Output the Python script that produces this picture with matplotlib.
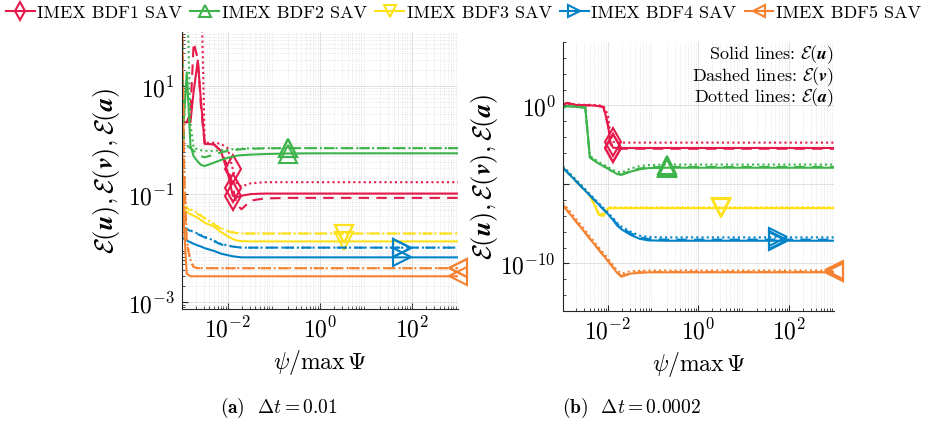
import numpy as np
import matplotlib
matplotlib.use('Agg')
import matplotlib.pyplot as plt
from matplotlib.lines import Line2D
from matplotlib.ticker import LogLocator, NullFormatter, FixedLocator, FixedFormatter

plt.rcParams['font.family'] = 'cmr10'
plt.rcParams['mathtext.fontset'] = 'cm'
plt.rcParams['axes.formatter.use_mathtext'] = True

# metodos, colores y marcadores
methods = ['IMEX BDF1 SAV', 'IMEX BDF2 SAV', 'IMEX BDF3 SAV', 'IMEX BDF4 SAV', 'IMEX BDF5 SAV']
colors = ['#e6194b', '#3cb44b', '#ffe119', '#0082c8', '#f58231']
markers = ['d', '^', 'v', '>', '<']
msizes = [14, 13, 13, 13, 13]

# (a) dt = 0.01 -- exponentes log10
xa = [-3.0, -2.95, -2.89, -2.81, -2.74, -2.65, -2.58, -2.5, -2.3, -2.15, -2.0,
      -1.89, -1.8, -1.7, -1.5, -1.2, -0.7, 0.0, 0.53, 1.78, 3.0]
u1a = [0.33, 0.33, 0.33, 0.33, 0.9, 1.47, 0.7, -0.07, -0.08, -0.2, -0.6,
       -1.03, -1.06, -1.03, -1.0, -0.99, -0.99, -0.99, -0.99, -0.99, -0.99]
v1a = [0.33, 0.33, 0.33, 0.5, 1.8, 1.5, 0.6, -0.07, -0.08, -0.2, -0.5,
       -0.88, -1.2, -1.28, -1.12, -1.08, -1.07, -1.07, -1.07, -1.07, -1.07]
a1a = [3.0, 3.0, 3.0, 3.0, 3.0, 3.0, 3.0, -0.05, -0.05, -0.07, -0.15,
       -0.54, -0.82, -0.86, -0.8, -0.78, -0.78, -0.78, -0.78, -0.78, -0.78]
u2a = [0.2, 0.4, 1.25, -0.1, -0.3, -0.4, -0.46, -0.48, -0.42, -0.37, -0.33,
       -0.31, -0.29, -0.28, -0.27, -0.26, -0.25, -0.246, -0.246, -0.246, -0.246]
v2a = [2.5, 0.0, -0.1, -0.15, -0.2, -0.25, -0.3, -0.32, -0.27, -0.23, -0.2,
       -0.19, -0.18, -0.17, -0.16, -0.155, -0.15, -0.15, -0.15, -0.15, -0.15]
a2a = [3.0, 3.0, 3.0, 0.3, -0.15, -0.17, -0.19, -0.2, -0.2, -0.19, -0.18,
       -0.17, -0.165, -0.16, -0.155, -0.15, -0.15, -0.15, -0.15, -0.15, -0.15]
u3a = [-1.28, -1.3, -1.33, -1.37, -1.4, -1.44, -1.48, -1.53, -1.6, -1.7, -1.78,
       -1.83, -1.86, -1.87, -1.875, -1.875, -1.875, -1.875, -1.875, -1.875, -1.875]
v3a = [-1.2, -1.23, -1.26, -1.3, -1.33, -1.37, -1.4, -1.45, -1.56, -1.64, -1.69,
       -1.71, -1.72, -1.73, -1.73, -1.73, -1.73, -1.73, -1.73, -1.73, -1.73]
a3a = [-1.18, -1.21, -1.24, -1.28, -1.31, -1.35, -1.39, -1.44, -1.55, -1.63, -1.68,
       -1.7, -1.72, -1.73, -1.73, -1.73, -1.73, -1.73, -1.73, -1.73, -1.73]
u4a = [-1.8, -1.83, -1.86, -1.89, -1.92, -1.95, -1.97, -2.0, -2.05, -2.1, -2.13,
       -2.15, -2.16, -2.17, -2.17, -2.17, -2.17, -2.17, -2.17, -2.17, -2.17]
v4a = [-1.59, -1.62, -1.65, -1.68, -1.71, -1.74, -1.77, -1.8, -1.87, -1.93, -1.96,
       -1.97, -1.98, -1.99, -1.99, -1.99, -1.99, -1.99, -1.99, -1.99, -1.99]
a4a = [-1.58, -1.61, -1.64, -1.67, -1.7, -1.73, -1.76, -1.79, -1.86, -1.92, -1.95,
       -1.97, -1.98, -1.99, -1.99, -1.99, -1.99, -1.99, -1.99, -1.99, -1.99]
u5a = [0.17, -1.6, -2.47, -2.52, -2.52, -2.52, -2.52, -2.52, -2.52, -2.52, -2.52,
       -2.52, -2.52, -2.52, -2.52, -2.52, -2.52, -2.52, -2.52, -2.52, -2.52]
v5a = [3.0, -0.5, -1.9, -2.25, -2.35, -2.37, -2.37, -2.37, -2.37, -2.37, -2.37,
       -2.37, -2.37, -2.37, -2.37, -2.37, -2.37, -2.37, -2.37, -2.37, -2.37]
a5a = [3.0, -0.3, -1.85, -2.22, -2.34, -2.37, -2.37, -2.37, -2.37, -2.37, -2.37,
       -2.37, -2.37, -2.37, -2.37, -2.37, -2.37, -2.37, -2.37, -2.37, -2.37]

# (b) dt = 0.0002
xb = [-3.0, -2.9, -2.7, -2.5, -2.4, -2.3, -2.2, -2.1, -2.0, -1.95, -1.89,
      -1.8, -1.7, -1.5, -1.3, -1.1, -0.7, 0.0, 0.49, 1.75, 3.0]
u1b = [0.05, 0.15, 0.02, 0.0, 0.0, -0.02, -0.05, -0.1, -1.2, -2.3, -2.68,
       -2.7, -2.7, -2.7, -2.7, -2.7, -2.7, -2.7, -2.7, -2.7, -2.7]
v1b = [0.05, 0.15, 0.02, 0.0, 0.0, -0.02, -0.05, -0.1, -1.3, -2.4, -2.72,
       -2.75, -2.75, -2.75, -2.75, -2.75, -2.75, -2.75, -2.75, -2.75, -2.75]
a1b = [0.0, 0.1, 0.05, 0.03, 0.03, 0.02, 0.0, -0.05, -0.6, -1.8, -2.3,
       -2.36, -2.36, -2.36, -2.36, -2.36, -2.36, -2.36, -2.36, -2.36, -2.36]
u2b = [-0.15, -0.05, -0.1, -0.15, -3.3, -3.5, -3.7, -3.85, -4.0, -4.1, -4.2,
       -4.35, -4.4, -4.2, -4.05, -3.97, -3.95, -3.95, -3.95, -3.95, -3.95]
v2b = [-0.15, -0.05, -0.1, -0.15, -3.3, -3.5, -3.7, -3.85, -4.0, -4.1, -4.2,
       -4.33, -4.38, -4.15, -4.0, -3.92, -3.9, -3.9, -3.9, -3.9, -3.9]
a2b = [-0.12, -0.03, -0.08, -0.12, -3.2, -3.4, -3.6, -3.75, -3.9, -4.0, -4.1,
       -4.2, -4.25, -4.0, -3.85, -3.78, -3.75, -3.75, -3.75, -3.75, -3.75]
u3b = [-3.94, -4.23, -4.82, -5.41, -5.7, -6.3, -6.95, -7.0, -6.55, -6.52, -6.51,
       -6.51, -6.51, -6.51, -6.51, -6.51, -6.51, -6.51, -6.51, -6.51, -6.51]
v3b = [-3.94, -4.23, -4.82, -5.41, -5.7, -6.28, -6.9, -6.95, -6.52, -6.5, -6.5,
       -6.5, -6.5, -6.5, -6.5, -6.5, -6.5, -6.5, -6.5, -6.5, -6.5]
a3b = [-3.85, -4.14, -4.73, -5.32, -5.62, -6.2, -6.8, -6.85, -6.47, -6.45, -6.45,
       -6.45, -6.45, -6.45, -6.45, -6.45, -6.45, -6.45, -6.45, -6.45, -6.45]
u4b = [-3.94, -4.23, -4.82, -5.41, -5.7, -6.0, -6.29, -6.59, -6.88, -7.05, -7.25,
       -7.6, -7.85, -8.2, -8.45, -8.55, -8.57, -8.57, -8.57, -8.57, -8.57]
v4b = [-3.94, -4.23, -4.82, -5.41, -5.7, -6.0, -6.29, -6.59, -6.88, -7.03, -7.2,
       -7.52, -7.75, -8.1, -8.35, -8.47, -8.5, -8.5, -8.5, -8.5, -8.5]
a4b = [-3.85, -4.14, -4.73, -5.32, -5.62, -5.92, -6.2, -6.5, -6.78, -6.95, -7.12,
       -7.45, -7.68, -8.0, -8.25, -8.34, -8.36, -8.36, -8.36, -8.36, -8.36]
u5b = [-6.3, -6.66, -7.37, -8.08, -8.44, -8.8, -9.15, -9.5, -9.86, -10.04, -10.25,
       -10.6, -10.85, -10.65, -10.6, -10.57, -10.57, -10.57, -10.57, -10.57, -10.57]
v5b = [-6.3, -6.66, -7.37, -8.08, -8.44, -8.8, -9.15, -9.5, -9.86, -10.04, -10.25,
       -10.58, -10.8, -10.62, -10.57, -10.55, -10.55, -10.55, -10.55, -10.55, -10.55]
a5b = [-6.15, -6.5, -7.22, -7.93, -8.3, -8.65, -9.0, -9.35, -9.7, -9.9, -10.1,
       -10.45, -10.65, -10.5, -10.47, -10.45, -10.45, -10.45, -10.45, -10.45, -10.45]

# posicion del marcador de cada metodo (exponente de psi/max Psi)
mark_a = [-1.89, -0.7, 0.53, 1.78, 3.0]
mark_b = [-1.89, -0.7, 0.49, 1.75, 3.0]

panel_a = [(u1a, v1a, a1a), (u2a, v2a, a2a), (u3a, v3a, a3a), (u4a, v4a, a4a), (u5a, v5a, a5a)]
panel_b = [(u1b, v1b, a1b), (u2b, v2b, a2b), (u3b, v3b, a3b), (u4b, v4b, a4b), (u5b, v5b, a5b)]

# estilos tipo MATLAB: solido, discontinuo, punteado
styles = ['-', (0, (5, 3.5)), (0, (1, 1.5))]

fig = plt.figure(figsize=(9.27, 4.27), dpi=100)
ax1 = fig.add_axes([0.196, 0.274, 0.298, 0.649])
ax2 = fig.add_axes([0.607, 0.270, 0.293, 0.629])

ylab = r'$\mathcal{E}(\boldsymbol{u}), \mathcal{E}(\boldsymbol{v}), \mathcal{E}(\boldsymbol{a})$'


def draw(ax, xe, series, marks):
    x = 10.0 ** np.array(xe)
    for k, (u, v, a) in enumerate(series):
        c = colors[k]
        idx = int(np.argmin(np.abs(np.array(xe) - marks[k])))
        for y, ls in zip((u, v, a), styles):
            y = 10.0 ** np.array(y)
            ax.plot(x, y, ls=ls, color=c, lw=1.5)
            ax.plot(x, y, ls='none', marker=markers[k], ms=msizes[k], mfc='none',
                    mec=c, mew=1.5, markevery=[idx], clip_on=False)
    ax.set_xscale('log')
    ax.set_yscale('log')
    ax.set_xlim(1e-3, 1e3)
    ax.set_xticks([1e-2, 1e0, 1e2])
    ax.xaxis.set_minor_locator(LogLocator(base=10, subs=np.arange(2, 10), numticks=20))
    ax.xaxis.set_minor_formatter(NullFormatter())
    for s in ('top', 'right'):
        ax.spines[s].set_visible(False)
    for s in ('left', 'bottom'):
        ax.spines[s].set_color('#262626')
        ax.spines[s].set_linewidth(0.8)
    ax.tick_params(which='both', direction='in', labelsize=17, color='#262626')
    ax.tick_params(which='major', length=4, pad=5)
    ax.tick_params(which='minor', length=2)
    ax.grid(True, which='major', color='#dcdcdc', lw=0.6)
    ax.set_axisbelow(True)
    ax.set_xlabel(r'$\psi/\max\,\Psi$', fontsize=17, labelpad=4)
    ax.set_ylabel(ylab, fontsize=19)


draw(ax1, xa, panel_a, mark_a)
ax1.set_ylim(7.5e-4, 1e2)
ax1.set_yticks([1e-3, 1e-1, 1e1])
ax1.yaxis.set_minor_locator(LogLocator(base=10, subs=np.arange(2, 10), numticks=20))
ax1.yaxis.set_minor_formatter(NullFormatter())
ax1.grid(True, which='minor', color='#d6d6d6', lw=0.5, ls=':')
ax1.yaxis.set_label_coords(-0.215, 0.5)

draw(ax2, xb, panel_b, mark_b)
ax2.set_ylim(1e-13, 1e4)
ax2.yaxis.set_major_locator(FixedLocator([1e-10, 1e-5, 1e0]))
ax2.yaxis.set_major_formatter(FixedFormatter([r'$10^{-10}$', '', r'$10^{0}$']))
ax2.yaxis.set_minor_locator(LogLocator(base=10, subs=[1.0], numticks=30))
ax2.yaxis.set_minor_formatter(NullFormatter())
ax2.grid(True, which='minor', axis='x', color='#d6d6d6', lw=0.5, ls=':')
ax2.yaxis.set_label_coords(-0.23, 0.5)

notes = [r'Solid lines: $\mathcal{E}(\boldsymbol{u})$',
         r'Dashed lines: $\mathcal{E}(\boldsymbol{v})$',
         r'Dotted lines: $\mathcal{E}(\boldsymbol{a})$']
for i, t in enumerate(notes):
    ax2.text(0.998, 0.956 - i * 0.08, t, transform=ax2.transAxes, ha='right',
             va='center', fontsize=13)

handles = [Line2D([], [], color=colors[k], lw=1.5, marker=markers[k], ms=9,
                  mfc='none', mew=1.5) for k in range(5)]
fig.legend(handles, methods, loc='upper center', bbox_to_anchor=(0.5, 1.0), ncol=5,
           frameon=False, fontsize=13, handlelength=1.6, handletextpad=0.15,
           columnspacing=0.45, borderaxespad=0.1, borderpad=0.2)

fig.text(0.301, 0.045, r'$\mathbf{(a)}$  $\Delta t = 0.01$', ha='center', va='center', fontsize=14)
fig.text(0.681, 0.045, r'$\mathbf{(b)}$  $\Delta t = 0.0002$', ha='center', va='center', fontsize=14)

fig.savefig('out.png', dpi=100)
